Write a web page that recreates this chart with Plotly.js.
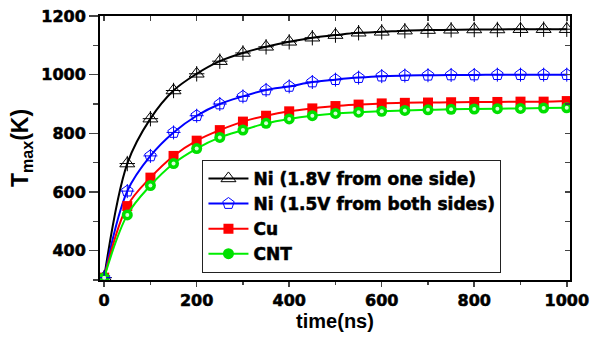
<!DOCTYPE html>
<html><head><meta charset="utf-8">
<script src="https://cdn.plot.ly/plotly-3.0.1.min.js"></script>
<style>html,body{margin:0;padding:0;background:#fff}#chart{width:590px;height:343px}
.xtick text,.ytick text,.legendtext{stroke:#000;stroke-width:0.55px}
</style>
</head><body><div id="chart"></div>
<script>
var time = [0,50,100,150,200,250,300,350,400,450,500,550,600,650,700,750,800,850,900,950,1000];
var ni18 = [308,697,850,946,1003,1046,1074,1095,1112,1126,1135,1143,1146,1150,1152,1153,1154,1154,1155,1155,1155];
var ni15 = [308,603,723,803,860,900,926,948,960,975,983,990,995,997,998,999,999,1000,1000,1000,1000];
var cu   = [308,552,649,723,775,811,840,860,875,885,893,898,902,904,905,906,907,907,908,908,910];
var cnt  = [308,522,622,697,748,786,811,834,849,860,868,872,875,878,880,882,883,884,885,886,887];
var names = ['Ni (1.8V from one side)','Ni (1.5V from both sides)','Cu','CNT'];
var xTicks = [0,200,400,600,800,1000];
var yTicks = [400,600,800,1000,1200];

var LIB = 'Liberation Sans';
var DJV = 'DejaVu Sans';
function fnt(f,s){ return {family:f, size:s, color:'#000', weight:'bold'}; }
function b(s){ return '<b>'+s+'</b>'; }
var traces = [
 {x:time,y:ni18,name:b(names[0]),mode:'lines+markers',line:{color:'#000',width:2,shape:'spline'},
  marker:{symbol:'triangle-up-open',size:13,color:'#000',line:{width:1,color:'#000'}}},
 {x:time,y:ni15,name:b(names[1]),mode:'lines+markers',line:{color:'#0000ff',width:2,shape:'spline'},
  marker:{symbol:'pentagon-open',size:12,color:'#0000ff',line:{width:1,color:'#0000ff'}}},
 {x:time,y:cu,name:b(names[2]),mode:'lines+markers',line:{color:'#ff0000',width:2,shape:'spline'},
  marker:{symbol:'square',size:10,color:'#ff0000'}},
 {x:time,y:cnt,name:b(names[3]),mode:'lines+markers',line:{color:'#00ee00',width:2,shape:'spline'},
  marker:{symbol:'circle',size:11,color:'#00e000'}},
 {x:time,y:ni18,mode:'markers',showlegend:false,hoverinfo:'skip',
  marker:{symbol:'cross-thin-open',size:11,color:'#000',line:{width:1,color:'#000'}}},
 {x:time,y:ni15,mode:'markers',showlegend:false,hoverinfo:'skip',
  marker:{symbol:'cross-thin-open',size:10,color:'#0000ff',line:{width:1,color:'#0000ff'}}},
 {x:time,y:cnt,mode:'markers',showlegend:false,hoverinfo:'skip',
  marker:{symbol:'circle',size:4,color:'#d8ffd8'}},
 {x:[0],y:[300],xaxis:'x2',yaxis:'y2',mode:'markers',marker:{opacity:0},showlegend:false,hoverinfo:'skip'}
];
var layout = {
 width:590,height:343,margin:{l:100,r:20,t:16,b:63},
 paper_bgcolor:'#fff',plot_bgcolor:'#fff',showlegend:true,
 xaxis:{range:[-9,1007],tickmode:'array',tickvals:xTicks,ticktext:xTicks.map(function(v){return b(v);}),
   ticks:'outside',ticklen:5,tickwidth:1.5,showline:true,linewidth:2,linecolor:'#000',
   showgrid:false,zeroline:false,tickfont:fnt(DJV,16),
   minor:{dtick:100,tick0:0,ticks:'outside',ticklen:3,tickwidth:1.5},
   title:{text:b('time(ns)'),font:fnt(LIB,20),standoff:2}},
 yaxis:{range:[300,1200],tickmode:'array',tickvals:yTicks,ticktext:yTicks.map(function(v){return b(v);}),
   ticks:'outside',ticklen:9,tickwidth:1.5,showline:true,linewidth:2,linecolor:'#000',
   showgrid:false,zeroline:false,tickfont:fnt(DJV,16),
   minor:{dtick:100,tick0:0,ticks:'outside',ticklen:5,tickwidth:1.5},
   title:{text:b('T<sub>max</sub>(K)'),font:fnt(LIB,23),standoff:6}},
 xaxis2:{overlaying:'x',side:'top',range:[-9,1007],dtick:100,tick0:0,ticks:'inside',ticklen:5,tickwidth:1.5,
   showline:true,linewidth:2,linecolor:'#000',showticklabels:false,showgrid:false,zeroline:false},
 yaxis2:{overlaying:'y',side:'right',range:[300,1200],dtick:100,tick0:0,ticks:'inside',ticklen:5,tickwidth:1.5,
   showline:true,linewidth:2,linecolor:'#000',showticklabels:false,showgrid:false,zeroline:false},
 legend:{x:0.218,y:0.455,xanchor:'left',yanchor:'top',bgcolor:'#fff',bordercolor:'#222',borderwidth:1,
   font:fnt(DJV,17),tracegroupgap:0,itemwidth:40}
};
Plotly.newPlot('chart',traces,layout,{staticPlot:true});
</script></body></html>
